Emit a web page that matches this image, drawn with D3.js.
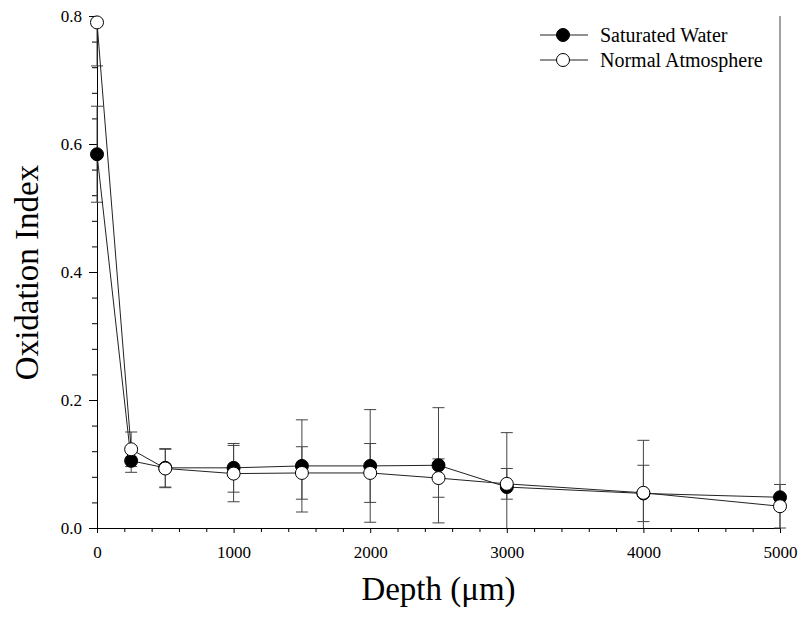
<!DOCTYPE html>
<html>
<head>
<meta charset="utf-8">
<script src="https://cdn.jsdelivr.net/npm/d3@7"></script>
<style>
  html, body { margin: 0; padding: 0; background: #fff; }
  svg { display: block; }
  svg text { font-family: "Liberation Serif", "Times New Roman", serif; fill: #000; }
  .axis text { font-size: 17px; }
</style>
</head>
<body>
<script>
// Depth profile of oxidation index, two storage conditions
const depths = [0, 250, 500, 1000, 1500, 2000, 2500, 3000, 4000, 5000];
const saturatedWater = [0.584, 0.105, 0.094, 0.094, 0.097, 0.097, 0.098, 0.064, 0.054, 0.048];
const saturatedWaterErr = [0.075, 0.018, 0.030, 0.038, 0.072, 0.088, 0.090, 0.085, 0.044, 0.760];
const normalAtmosphere = [0.790, 0.123, 0.093, 0.085, 0.086, 0.086, 0.078, 0.069, 0.055, 0.034];
const normalAtmosphereErr = [0.068, 0.027, 0.030, 0.044, 0.041, 0.046, 0.030, 0.024, 0.082, 0.034];
const seriesNames = ["Saturated Water", "Normal Atmosphere"];
const xTicks = [0, 1000, 2000, 3000, 4000, 5000];
const yTicks = [0.0, 0.2, 0.4, 0.6, 0.8];

const W = 802, H = 620;
const plotLeft = 97, plotRight = 780, plotTop = 16, plotBottom = 528;
const serif = "Liberation Serif, Times New Roman, serif";

const svg = d3.select("body").append("svg").attr("width", W).attr("height", H);

const x = d3.scaleLinear().domain([0, 5000]).range([plotLeft, plotRight]);
const y = d3.scaleLinear().domain([0, 0.8]).range([plotBottom, plotTop]);

const series = [
  { name: seriesNames[0], values: saturatedWater, err: saturatedWaterErr, fill: "#000" },
  { name: seriesNames[1], values: normalAtmosphere, err: normalAtmosphereErr, fill: "#fff" }
];

// minor ticks
const xMinor = d3.range(0, 5001, 200).filter(v => !xTicks.includes(v));
const yMinor = d3.range(0, 0.8001, 0.04).map(v => +v.toFixed(2)).filter(v => !yTicks.some(t => Math.abs(t - v) < 1e-9));

const xMinorAxis = d3.axisBottom(x).tickValues(xMinor).tickSize(4).tickFormat("");
const yMinorAxis = d3.axisLeft(y).tickValues(yMinor).tickSize(5).tickFormat("");
svg.append("g").attr("transform", `translate(0,${plotBottom})`).call(xMinorAxis)
  .call(g => g.select(".domain").remove());
svg.append("g").attr("transform", `translate(${plotLeft},0)`).call(yMinorAxis)
  .call(g => g.select(".domain").remove());

const xAxis = d3.axisBottom(x).tickValues(xTicks).tickSize(5).tickSizeOuter(0).tickPadding(13).tickFormat(d3.format("d"));
const yAxis = d3.axisLeft(y).tickValues(yTicks).tickSize(8).tickSizeOuter(0).tickPadding(7).tickFormat(d3.format(".1f"));

const gx = svg.append("g").attr("class", "axis").attr("transform", `translate(0,${plotBottom})`).call(xAxis);
const gy = svg.append("g").attr("class", "axis").attr("transform", `translate(${plotLeft},0)`).call(yAxis);
gx.attr("font-family", serif).attr("font-size", 17);
gy.attr("font-family", serif).attr("font-size", 17);
gx.selectAll("text").attr("font-family", serif).attr("font-size", 17).attr("fill", "#000");
gy.selectAll("text").attr("font-family", serif).attr("font-size", 17).attr("fill", "#000").attr("dy", "0.34em");
svg.selectAll(".tick line, .domain").attr("stroke", "#000").attr("stroke-width", 1);

// error bars (clipped to the plotting range)
const capHalf = 6;
const errG = svg.append("g").attr("stroke", "#444").attr("stroke-width", 1).attr("fill", "none");
series.forEach(s => {
  s.values.forEach((v, i) => {
    const lo = v - s.err[i], hi = v + s.err[i];
    const cx = x(depths[i]);
    const loC = Math.max(lo, 0), hiC = Math.min(hi, 0.8);
    errG.append("line").attr("x1", cx).attr("x2", cx).attr("y1", y(loC)).attr("y2", y(hiC));
    if (lo >= 0) errG.append("line").attr("x1", cx - capHalf).attr("x2", cx + capHalf).attr("y1", y(lo)).attr("y2", y(lo));
    if (hi <= 0.8) errG.append("line").attr("x1", cx - capHalf).attr("x2", cx + capHalf).attr("y1", y(hi)).attr("y2", y(hi));
  });
});

// lines and markers
const line = d3.line().x((d, i) => x(depths[i])).y(d => y(d));
series.forEach(s => {
  svg.append("path").datum(s.values).attr("d", line)
    .attr("fill", "none").attr("stroke", "#222").attr("stroke-width", 1);
});
series.forEach(s => {
  svg.append("g").selectAll("circle").data(s.values).join("circle")
    .attr("cx", (d, i) => x(depths[i])).attr("cy", d => y(d)).attr("r", 6.5)
    .attr("fill", s.fill).attr("stroke", "#000").attr("stroke-width", 1);
});

// axis titles
svg.append("text").attr("transform", `translate(38,${(plotTop + plotBottom) / 2 + 0.5}) rotate(-90)`)
  .attr("text-anchor", "middle").attr("font-family", serif).attr("font-size", 33).text("Oxidation Index");
svg.append("text").attr("x", (plotLeft + plotRight) / 2).attr("y", 600)
  .attr("text-anchor", "middle").attr("font-family", serif).attr("font-size", 33).text("Depth (\u03bcm)");

// legend
const legend = svg.append("g");
series.forEach((s, i) => {
  const ly = 35 + i * 25;
  legend.append("line").attr("x1", 540).attr("x2", 588).attr("y1", ly).attr("y2", ly)
    .attr("stroke", "#222").attr("stroke-width", 1);
  legend.append("circle").attr("cx", 563).attr("cy", ly).attr("r", 6.5)
    .attr("fill", s.fill).attr("stroke", "#000").attr("stroke-width", 1);
  legend.append("text").attr("x", 600).attr("y", ly).attr("dy", "0.33em")
    .attr("font-family", serif).attr("font-size", 20).text(s.name);
});
</script>
</body>
</html>
